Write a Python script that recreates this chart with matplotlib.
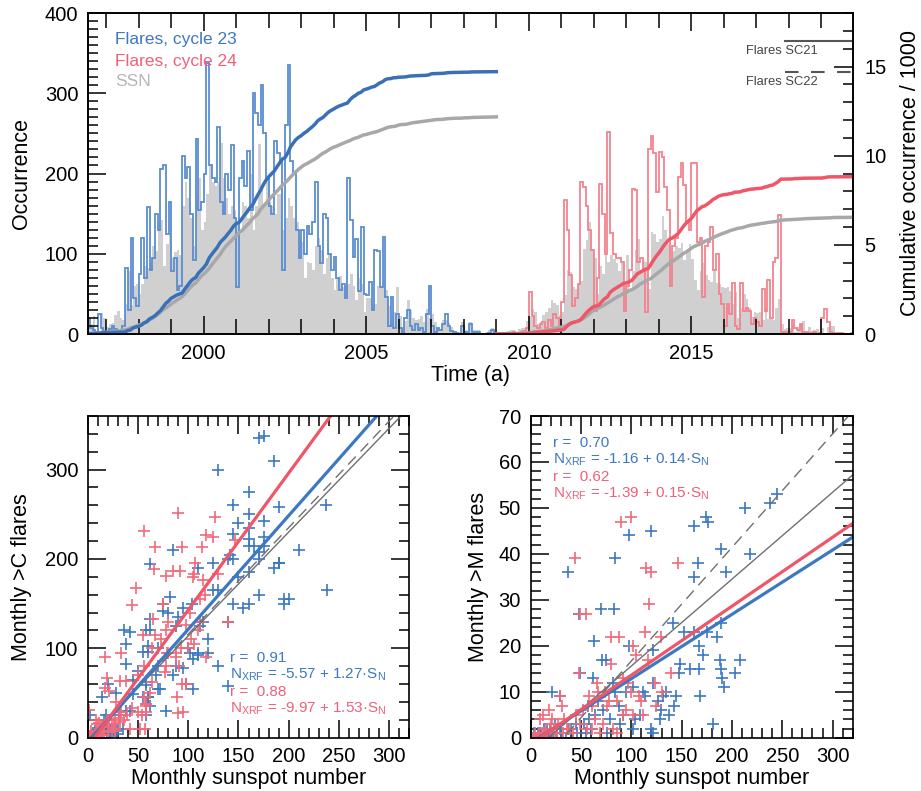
import numpy as np
import matplotlib
matplotlib.use("Agg")
import matplotlib.pyplot as plt
from matplotlib.ticker import MultipleLocator

plt.rcParams['font.family'] = ['Liberation Sans', 'DejaVu Sans']
plt.rcParams['mathtext.default'] = 'regular'

# ---- monthly data ----
# first month: June 1996
start_year = 1996
start_month = 6

# monthly number of >C flares, solar cycle 23 (Jun 1996 - Dec 2008)
flares_c23 = [
    20, 8, 5, 3, 25, 8, 4,                                      # 1996 Jun-Dec
    3, 6, 10, 6, 4, 3, 10, 82, 30, 120, 45, 35,                 # 1997
    75, 120, 70, 158, 80, 95, 150, 130, 205, 210, 125, 165,     # 1998
    78, 95, 55, 60, 222, 195, 208, 150, 92, 243, 155, 165,      # 1999
    200, 338, 210, 195, 190, 258, 165, 150, 200, 180, 235, 145, # 2000
    58, 195, 215, 185, 228, 155, 300, 275, 260, 310, 250, 195,  # 2001
    160, 150, 240, 225, 215, 80, 260, 335, 215, 200, 130, 95,   # 2002
    130, 100, 135, 125, 140, 190, 110, 88, 150, 145, 100, 80,   # 2003
    96, 70, 55, 62, 45, 194, 142, 96, 118, 54, 133, 50,         # 2004
    49, 65, 30, 105, 103, 59, 121, 46, 10, 46, 8, 25,           # 2005
    8, 3, 20, 30, 10, 5, 12, 5, 8, 3, 25, 60,                   # 2006
    10, 3, 8, 5, 12, 25, 10, 4, 2, 1, 0, 10,                    # 2007
    3, 2, 12, 2, 3, 2, 0, 0, 0, 1, 5, 1,                        # 2008
]

# monthly number of >C flares, solar cycle 24 (Jan 2009 - Dec 2019)
flares_c24 = [
    0, 0, 0, 0, 0, 1, 2, 0, 0, 2, 4, 8,                         # 2009
    52, 22, 10, 8, 12, 15, 8, 18, 10, 25, 20, 8,                # 2010
    40, 167, 130, 73, 35, 45, 62, 189, 183, 160, 130, 105,      # 2011
    29, 70, 187, 150, 100, 252, 126, 100, 95, 95, 90, 29,       # 2012
    60, 80, 181, 180, 90, 95, 80, 28, 231, 247, 225, 177,       # 2013
    227, 221, 183, 155, 60, 110, 120, 196, 213, 186, 140, 130,  # 2014
    213, 213, 115, 120, 46, 110, 115, 133, 80, 100, 50, 38,     # 2015
    10, 38, 25, 63, 10, 6, 63, 29, 33, 29, 12, 20,              # 2016
    15, 10, 56, 29, 67, 20, 90, 95, 148, 3, 2, 2,               # 2017
    3, 17, 8, 5, 12, 3, 2, 1, 1, 2, 0, 1,                       # 2018
    20, 31, 15, 2, 1, 1, 1, 1, 0, 0, 0, 1,                      # 2019
]

# monthly sunspot number (Jun 1996 - Dec 2019)
ssn = [
    19, 12, 22, 4, 2, 26, 20,                                   # 1996 Jun-Dec
    9, 12, 14, 24, 29, 20, 17, 38, 78, 36, 60, 62,              # 1997
    50, 62, 85, 82, 88, 110, 104, 140, 142, 85, 112, 125,       # 1998
    95, 102, 105, 98, 160, 190, 170, 145, 110, 175, 195, 130,   # 1999
    140, 175, 210, 190, 185, 190, 238, 195, 170, 150, 160, 155, # 2000
    140, 125, 165, 160, 145, 200, 130, 160, 237, 185, 160, 190, # 2001
    170, 160, 150, 175, 175, 130, 145, 170, 160, 145, 140, 120, # 2002
    115, 70, 90, 88, 80, 110, 120, 105, 75, 95, 100, 70,        # 2003
    55, 68, 72, 58, 60, 62, 75, 60, 42, 70, 62, 28,             # 2004
    45, 45, 38, 38, 60, 58, 58, 55, 35, 14, 28, 58,             # 2005
    23, 8, 16, 42, 30, 20, 18, 19, 22, 15, 31, 20,              # 2006
    25, 15, 7, 5, 17, 18, 14, 9, 4, 2, 3, 15,                   # 2007
    5, 3, 15, 5, 5, 5, 1, 1, 2, 5, 7, 2,                        # 2008
    2, 2, 1, 2, 4, 5, 5, 0, 6, 7, 7, 16,                        # 2009
    21, 31, 27, 13, 15, 24, 27, 32, 42, 39, 36, 24,             # 2010
    28, 48, 80, 77, 58, 56, 64, 66, 106, 117, 140, 106,         # 2011
    95, 50, 85, 75, 100, 90, 98, 93, 88, 79, 88, 58,            # 2012
    98, 56, 78, 105, 118, 80, 91, 90, 56, 127, 125, 115,        # 2013
    118, 147, 130, 112, 94, 103, 110, 107, 114, 92, 102, 112,   # 2014
    94, 67, 55, 78, 89, 73, 67, 65, 78, 64, 62, 58,             # 2015
    57, 58, 54, 38, 52, 20, 32, 50, 44, 33, 21, 27,             # 2016
    26, 27, 17, 32, 19, 19, 17, 33, 44, 12, 6, 8,               # 2017
    7, 11, 3, 9, 13, 16, 2, 9, 4, 5, 6, 3,                      # 2018
    8, 1, 9, 10, 10, 1, 1, 0, 1, 0, 1, 2,                       # 2019
]

# total flare numbers of earlier cycles (/1000)
sc21_total = 16.45
sc22_total = 14.7

# monthly >M flares vs sunspot number
m23_ssn = [245, 238, 213, 174, 176, 162, 120, 98, 189, 218, 166, 84, 162, 194, 37,
           48, 70, 83, 141, 152, 162, 175, 189, 185, 63, 98, 167, 171, 122, 71,
           75, 188, 208, 148, 158, 167, 189, 203, 190, 147, 192, 168, 144, 134, 131,
           122, 102, 84, 62, 49, 21, 29, 114, 127, 142, 72, 92, 102, 120, 128,
           181, 122, 64, 53, 76, 37, 3, 9, 16, 29, 46, 79, 89, 109, 95,
           82, 129, 137, 5, 8, 12, 15, 18, 20, 25, 10, 3, 2, 14, 22,
           30, 35, 40, 45, 55, 58, 60, 42, 24, 19, 17, 6, 1, 4, 26,
           31, 13, 7, 67, 88, 104, 112, 57]
m23_flares = [53, 51, 50, 48, 47, 46, 45, 44, 41, 40, 38, 39, 35, 36, 36,
              27, 28, 28, 25, 23, 23, 23, 25, 22, 21, 20, 20, 18, 19, 17,
              17, 17, 17, 16, 15, 15, 15, 14, 13, 14, 11, 9, 9, 10, 9,
              12, 11, 10, 13, 14, 10, 9, 9, 8, 7, 6, 5, 2, 2, 4,
              3, 1, 5, 3, 1, 2, 1, 1, 2, 2, 1, 4, 3, 5, 10,
              12, 6, 5, 0, 0, 0, 1, 0, 1, 0, 0, 0, 0, 0, 1,
              1, 0, 2, 3, 1, 4, 2, 0, 3, 2, 0, 0, 0, 0, 1,
              0, 2, 1, 8, 7, 4, 10, 7]
m24_ssn = [90, 100, 44, 115, 120, 146, 118, 49, 55, 80, 88, 114, 129, 102, 105,
           117, 80, 48, 139, 124, 92, 97, 130, 110, 29, 31, 18, 12, 9, 21,
           67, 61, 76, 86, 95, 102, 112, 125, 64, 72, 82, 92, 56, 42, 32,
           69, 86, 3, 6, 8, 13, 23, 26, 16, 39, 49, 61, 4, 2, 1,
           5, 7, 10, 11, 14, 15, 19, 20, 24, 27, 33, 36, 45, 52, 58,
           66, 74, 78, 100, 108]
m24_flares = [47, 48, 39, 37, 36, 38, 29, 27, 27, 22, 22, 23, 22, 20, 18,
              17, 16, 14, 14, 12, 13, 12, 10, 8, 9, 7, 6, 5, 4, 4,
              10, 7, 7, 8, 6, 5, 5, 7, 4, 3, 2, 5, 2, 1, 1,
              1, 1, 0, 0, 1, 1, 2, 1, 0, 2, 3, 2, 1, 0, 0,
              0, 0, 0, 1, 0, 2, 1, 3, 0, 3, 4, 2, 5, 6, 9,
              12, 10, 8, 10, 9]

# linear fits: (intercept, slope, r)
fit_c23 = (-5.57, 1.27, 0.91)
fit_c24 = (-9.97, 1.53, 0.88)
fit_m23 = (-1.16, 0.14, 0.70)
fit_m24 = (-1.39, 0.15, 0.62)
# earlier cycles (grey lines)
fit_c21 = (-2.0, 1.16)
fit_c22 = (-3.0, 1.19)
fit_m21 = (-3.3, 0.189)
fit_m22 = (-8.0, 0.247)

blue = '#3d78c2'
blue_light = '#5b8dd0'
red = '#ef5668'
red_light = '#f3838f'
red_text = '#f0607a'
grey_fill = '#d0d0d0'
grey_line = '#a8a8a8'

TICK = 14.5
LABEL = 15.5

# ---- time axis ----
n23 = len(flares_c23)
t0 = start_year + (start_month - 1) / 12
edges = t0 + np.arange(len(ssn) + 1) / 12
edges23 = edges[:n23 + 1]
edges24 = edges[n23:]
ssn_arr = np.array(ssn, dtype=float)
ssn23 = ssn_arr[:n23]
ssn24 = ssn_arr[n23:]

fig = plt.figure(figsize=(9.21, 7.91), dpi=100)
W, H = 921, 791


def style_axes(a):
    for s in a.spines.values():
        s.set_linewidth(1.2)
    a.tick_params(which='both', direction='in', width=1.1, labelsize=TICK,
                  top=True, right=True, pad=7)
    a.tick_params(which='major', length=13)
    a.tick_params(which='minor', length=7)


# ---- top panel ----
ax = fig.add_axes([88 / W, 1 - 334 / H, 765 / W, 321 / H])
ax.stairs(ssn_arr, edges, fill=True, color=grey_fill, linewidth=0)
ax.stairs(flares_c23, edges23, color=blue_light, linewidth=1.3)
ax.stairs(flares_c24, edges24, color=red_light, linewidth=1.3)
ax.set_xlim(1996.44, 2019.97)
ax.set_ylim(0, 400)
for s in ax.spines.values():
    s.set_linewidth(1.2)
ax.tick_params(which='both', direction='in', width=1.1, labelsize=TICK, top=True, pad=7)
ax.tick_params(which='major', length=13)
ax.tick_params(which='minor', length=7)
ax.tick_params(axis='x', which='minor', length=11)
ax.xaxis.set_major_locator(MultipleLocator(5))
ax.xaxis.set_minor_locator(MultipleLocator(1))
ax.yaxis.set_major_locator(MultipleLocator(100))
ax.yaxis.set_minor_locator(MultipleLocator(10))
ax.set_xlabel('Time (a)', fontsize=LABEL, labelpad=2)
ax.set_ylabel('Occurrence', fontsize=LABEL, labelpad=9)

ax.text(0.035, 0.916, 'Flares, cycle 23', color=blue, fontsize=12.5,
        transform=ax.transAxes, va='center')
ax.text(0.035, 0.850, 'Flares, cycle 24', color=red_text, fontsize=12.5,
        transform=ax.transAxes, va='center')
ax.text(0.035, 0.786, 'SSN', color='#b5b5b5', fontsize=12.5,
        transform=ax.transAxes, va='center')

ax2 = ax.twinx()
ax2.plot(edges23, np.concatenate([[0], np.cumsum(ssn23)]) / 1000, color=grey_line, lw=2.5)
ax2.plot(edges24, np.concatenate([[0], np.cumsum(ssn24)]) / 1000, color=grey_line, lw=2.5)
ax2.plot(edges23, np.concatenate([[0], np.cumsum(flares_c23)]) / 1000, color='#3a70b8', lw=2.5)
ax2.plot(edges24, np.concatenate([[0], np.cumsum(flares_c24)]) / 1000, color=red, lw=2.5)
ax2.plot([2017.88, 2019.97], [sc21_total, sc21_total], color='#555555', lw=1.5)
ax2.plot([2017.88, 2019.97], [sc22_total, sc22_total], color='#555555', lw=1.5,
         dashes=(6.5, 6))
ax2.text(0.860, 0.883, 'Flares SC21', fontsize=9.3, color='#444444',
         transform=ax2.transAxes, va='center')
ax2.text(0.860, 0.786, 'Flares SC22', fontsize=9.3, color='#444444',
         transform=ax2.transAxes, va='center')
ax2.set_ylim(0, 18)
ax2.yaxis.set_major_locator(MultipleLocator(5))
ax2.yaxis.set_minor_locator(MultipleLocator(1))
ax2.tick_params(which='both', direction='in', width=1.1, labelsize=TICK, pad=8)
ax2.tick_params(which='major', length=14)
ax2.tick_params(which='minor', length=7)
ax2.set_ylabel('Cumulative occurrence / 1000', fontsize=LABEL, labelpad=10)
for s in ax2.spines.values():
    s.set_linewidth(1.2)


def fit_text(a, x, y, fit, color):
    a.text(x, y, 'r =  %.2f' % fit[2], color=color, fontsize=11,
           transform=a.transAxes, va='center')
    a.text(x, y - 0.052, 'N$_{XRF}$ = %.2f + %.2f·S$_N$' % (fit[0], fit[1]),
           color=color, fontsize=11, transform=a.transAxes, va='center')


xs = np.array([0, 320])

# ---- bottom left: >C flares ----
axc = fig.add_axes([88 / W, 1 - 737.7 / H, 321 / W, 321.7 / H])
axc.plot(ssn23, flares_c23, '+', color=blue, ms=9, mew=1.2)
axc.plot(ssn24, flares_c24, '+', color='#f06a7a', ms=9, mew=1.2)
axc.plot(xs, fit_c21[0] + fit_c21[1] * xs, color='#707070', lw=1.0)
axc.plot(xs, fit_c22[0] + fit_c22[1] * xs, color='#707070', lw=1.0, dashes=(8, 5))
axc.plot(xs, fit_c23[0] + fit_c23[1] * xs, color=blue, lw=2.3)
axc.plot(xs, fit_c24[0] + fit_c24[1] * xs, color=red, lw=2.3)
axc.set_xlim(0, 320)
axc.set_ylim(0, 360)
style_axes(axc)
axc.xaxis.set_major_locator(MultipleLocator(50))
axc.xaxis.set_minor_locator(MultipleLocator(10))
axc.yaxis.set_major_locator(MultipleLocator(100))
axc.yaxis.set_minor_locator(MultipleLocator(20))
axc.set_xlabel('Monthly sunspot number', fontsize=LABEL, labelpad=1)
axc.set_ylabel('Monthly >C flares', fontsize=LABEL, labelpad=9)
fit_text(axc, 0.442, 0.247, fit_c23, blue)
fit_text(axc, 0.442, 0.143, fit_c24, red_text)

# ---- bottom right: >M flares ----
axm = fig.add_axes([530.7 / W, 1 - 737.7 / H, 322 / W, 321.7 / H])
axm.plot(m23_ssn, m23_flares, '+', color=blue, ms=9, mew=1.2)
axm.plot(m24_ssn, m24_flares, '+', color='#f06a7a', ms=9, mew=1.2)
axm.plot(xs, fit_m21[0] + fit_m21[1] * xs, color='#707070', lw=1.0)
axm.plot(xs, fit_m22[0] + fit_m22[1] * xs, color='#707070', lw=1.0, dashes=(8, 5))
axm.plot(xs, fit_m23[0] + fit_m23[1] * xs, color=blue, lw=2.3)
axm.plot(xs, fit_m24[0] + fit_m24[1] * xs, color=red, lw=2.3)
axm.set_xlim(0, 320)
axm.set_ylim(0, 70)
style_axes(axm)
axm.xaxis.set_major_locator(MultipleLocator(50))
axm.xaxis.set_minor_locator(MultipleLocator(10))
axm.yaxis.set_major_locator(MultipleLocator(10))
axm.yaxis.set_minor_locator(MultipleLocator(2))
axm.set_xlabel('Monthly sunspot number', fontsize=LABEL, labelpad=1)
axm.set_ylabel('Monthly >M flares', fontsize=LABEL, labelpad=7)
fit_text(axm, 0.068, 0.915, fit_m23, blue)
fit_text(axm, 0.068, 0.811, fit_m24, red_text)

fig.savefig('out.png', dpi=100)
